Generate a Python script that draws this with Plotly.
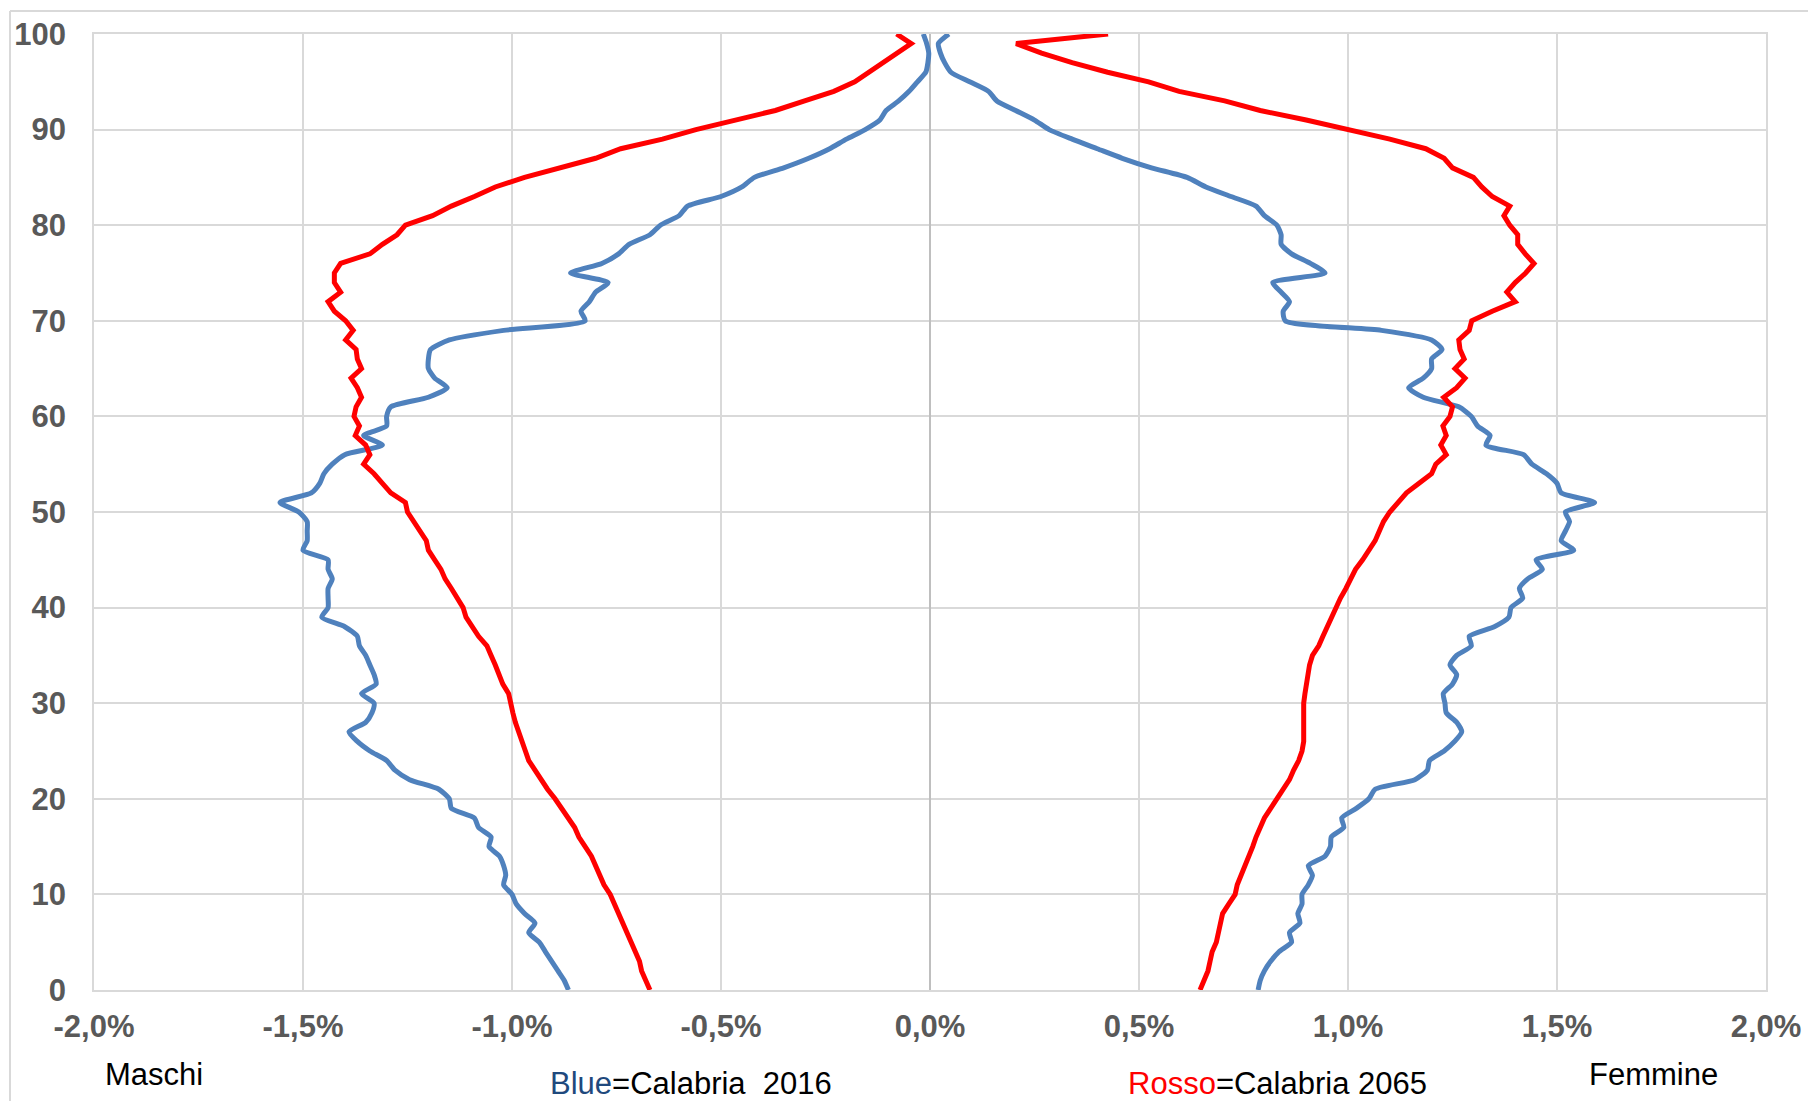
import plotly.graph_objects as go

ages = list(range(0, 101))

# Males 2016 (blue), % of population (negative side)
male_2016 = [
    -0.865, -0.875, -0.89, -0.905, -0.92, -0.935, -0.96, -0.945, -0.97, -0.99,
    -1.00, -1.02, -1.015, -1.02, -1.03, -1.055, -1.05, -1.08, -1.09, -1.145,
    -1.15, -1.175, -1.245, -1.28, -1.30, -1.34, -1.37, -1.39, -1.35, -1.335,
    -1.33, -1.36, -1.325, -1.33, -1.34, -1.35, -1.365, -1.37, -1.40, -1.455,
    -1.44, -1.44, -1.44, -1.43, -1.44, -1.44, -1.50, -1.49, -1.49, -1.49,
    -1.51, -1.555, -1.48, -1.46, -1.45, -1.43, -1.40, -1.31, -1.355, -1.30,
    -1.30, -1.29, -1.20, -1.155, -1.185, -1.20, -1.20, -1.195, -1.15, -1.02,
    -0.825, -0.835, -0.815, -0.80, -0.77, -0.86, -0.785, -0.745, -0.72, -0.67,
    -0.645, -0.60, -0.58, -0.50, -0.45, -0.42, -0.35, -0.29, -0.24, -0.20,
    -0.155, -0.12, -0.105, -0.075, -0.05, -0.03, -0.01, -0.005, -0.003, -0.008,
    -0.016,
]

# Females 2016 (blue)
female_2016 = [
    0.785, 0.79, 0.80, 0.815, 0.835, 0.865, 0.86, 0.885, 0.88, 0.89,
    0.89, 0.905, 0.915, 0.905, 0.945, 0.958, 0.96, 0.99, 0.985, 1.02,
    1.05, 1.065, 1.16, 1.19, 1.195, 1.23, 1.255, 1.272, 1.26, 1.235,
    1.232, 1.228, 1.25, 1.26, 1.244, 1.26, 1.295, 1.29, 1.35, 1.385,
    1.39, 1.418, 1.41, 1.43, 1.465, 1.45, 1.54, 1.51, 1.52, 1.53,
    1.52, 1.59, 1.51, 1.50, 1.475, 1.44, 1.42, 1.33, 1.34, 1.31,
    1.295, 1.265, 1.18, 1.145, 1.18, 1.20, 1.20, 1.225, 1.20, 1.08,
    0.85, 0.845, 0.86, 0.84, 0.82, 0.945, 0.91, 0.865, 0.84, 0.84,
    0.83, 0.80, 0.78, 0.72, 0.66, 0.615, 0.53, 0.46, 0.40, 0.34,
    0.285, 0.25, 0.205, 0.16, 0.14, 0.095, 0.05, 0.035, 0.025, 0.02,
    0.045,
]

# Males 2065 (red)
male_2065 = [
    -0.67, -0.68, -0.69, -0.695, -0.705, -0.715, -0.725, -0.735, -0.745, -0.755,
    -0.765, -0.78, -0.79, -0.80, -0.81, -0.825, -0.84, -0.85, -0.865, -0.88,
    -0.897, -0.915, -0.93, -0.945, -0.96, -0.968, -0.977, -0.985, -0.992, -0.998,
    -1.004, -1.008, -1.022, -1.03, -1.04, -1.05, -1.06, -1.08, -1.095, -1.11,
    -1.117, -1.13, -1.145, -1.16, -1.17, -1.185, -1.20, -1.205, -1.22, -1.235,
    -1.25, -1.255, -1.29, -1.31, -1.33, -1.355, -1.34, -1.35, -1.375, -1.365,
    -1.378, -1.373, -1.36, -1.37, -1.385, -1.36, -1.37, -1.373, -1.398, -1.38,
    -1.398, -1.425, -1.44, -1.41, -1.425, -1.425, -1.41, -1.34, -1.31, -1.275,
    -1.255, -1.19, -1.145, -1.09, -1.04, -0.97, -0.88, -0.80, -0.74, -0.64,
    -0.56, -0.47, -0.37, -0.30, -0.23, -0.18, -0.145, -0.11, -0.075, -0.045,
    -0.08,
]

# Females 2065 (red)
female_2065 = [
    0.646, 0.655, 0.665, 0.67, 0.675, 0.685, 0.69, 0.695, 0.70, 0.715,
    0.73, 0.735, 0.745, 0.755, 0.762, 0.772, 0.78, 0.79, 0.80, 0.815,
    0.83, 0.845, 0.86, 0.87, 0.882, 0.89, 0.894, 0.894, 0.894, 0.894,
    0.894, 0.897, 0.90, 0.903, 0.908, 0.915, 0.93, 0.94, 0.95, 0.96,
    0.972, 0.982, 0.995, 1.005, 1.018, 1.035, 1.05, 1.065, 1.075, 1.085,
    1.10, 1.12, 1.14, 1.17, 1.20, 1.21, 1.235, 1.222, 1.235, 1.227,
    1.244, 1.25, 1.229, 1.26, 1.28, 1.256, 1.278, 1.268, 1.265, 1.29,
    1.296, 1.345, 1.40, 1.38, 1.40, 1.425, 1.445, 1.424, 1.406, 1.406,
    1.387, 1.373, 1.387, 1.345, 1.32, 1.30, 1.25, 1.23, 1.186, 1.10,
    1.004, 0.90, 0.79, 0.705, 0.596, 0.523, 0.425, 0.34, 0.267, 0.206,
    0.426,
]

x_tickvals = [-2.0, -1.5, -1.0, -0.5, 0.0, 0.5, 1.0, 1.5, 2.0]
x_ticktext = ["-2,0%", "-1,5%", "-1,0%", "-0,5%", "0,0%", "0,5%", "1,0%", "1,5%", "2,0%"]
y_tickvals = list(range(0, 101, 10))

BLUE = "#4F81BD"
RED = "#FF0000"
GRID = "#D9D9D9"
FONT = "Liberation Sans, Arial, sans-serif"

fig = go.Figure()
fig.add_trace(go.Scatter(x=male_2016, y=ages, mode="lines",
                         line=dict(color=BLUE, width=5, shape="spline", smoothing=0.6),
                         showlegend=False))
fig.add_trace(go.Scatter(x=female_2016, y=ages, mode="lines",
                         line=dict(color=BLUE, width=5, shape="spline", smoothing=0.6),
                         showlegend=False))
fig.add_trace(go.Scatter(x=male_2065, y=ages, mode="lines",
                         line=dict(color=RED, width=5),
                         showlegend=False))
fig.add_trace(go.Scatter(x=female_2065, y=ages, mode="lines",
                         line=dict(color=RED, width=5),
                         showlegend=False))

# page body has an 8px margin; figure is sized to fit the 1816x1109 window
OFF = 8
W, H = 1816 - 2 * OFF, 1109 - 2 * OFF
L, T = 94 - OFF, 34 - OFF
R = W - (1766 - OFF)
B = H - (990 - OFF)
pw, ph = W - L - R, H - T - B

def px_x(px):
    return (px - OFF - L) / pw

def px_y(py):
    return (H - B - (py - OFF)) / ph

fig.update_layout(
    width=W, height=H,
    margin=dict(l=L, r=R, t=T, b=B, autoexpand=False),
    plot_bgcolor="white", paper_bgcolor="white",
    font=dict(family=FONT, color="#595959"),
    xaxis=dict(
        range=[-2, 2], tickvals=x_tickvals, ticktext=x_ticktext,
        showgrid=True, gridcolor=GRID, gridwidth=1.5,
        zeroline=True, zerolinecolor="#BFBFBF", zerolinewidth=2,
        showline=True, linecolor=GRID, linewidth=1.5, mirror=True,
        tickfont=dict(family=FONT, size=31, color="#595959", weight="bold"),
        ticks="", ticklabelstandoff=8, automargin=False,
    ),
    yaxis=dict(
        range=[0, 100], tickvals=y_tickvals,
        showgrid=True, gridcolor=GRID, gridwidth=1.5,
        zeroline=True, zerolinecolor="#BFBFBF", zerolinewidth=2,
        showline=True, linecolor=GRID, linewidth=1.5, mirror=True,
        tickfont=dict(family=FONT, size=31, color="#595959", weight="bold"),
        ticks="", ticklabelstandoff=20, automargin=False,
    ),
)

# side labels (centred)
for text, cx in [("Maschi", 154), ("Femmine", 1653)]:
    fig.add_annotation(xref="paper", yref="paper", x=px_x(cx), y=px_y(1074), text=text,
                       showarrow=False, xanchor="center", yanchor="middle",
                       font=dict(family=FONT, size=31, color="#000000"))

# colour key texts, kept just inside the bottom edge
for text, cx in [("<span style='color:#1F497D'>Blue</span>=Calabria\u00a0\u00a02016", 691),
                 ("<span style='color:#FF0000'>Rosso</span>=Calabria 2065", 1277)]:
    fig.add_annotation(xref="paper", yref="paper", x=px_x(cx), y=px_y(1103), text=text,
                       showarrow=False, xanchor="center", yanchor="bottom",
                       font=dict(family=FONT, size=31, color="#000000"))

# outer chart border (top and left)
fig.add_shape(type="line", xref="paper", yref="paper",
              x0=px_x(10), y0=px_y(11), x1=px_x(1816 - OFF), y1=px_y(11),
              line=dict(color=GRID, width=2))
fig.add_shape(type="line", xref="paper", yref="paper",
              x0=px_x(10), y0=px_y(11), x1=px_x(10), y1=px_y(1109 - OFF),
              line=dict(color=GRID, width=2))

fig.write_html("out.html")
